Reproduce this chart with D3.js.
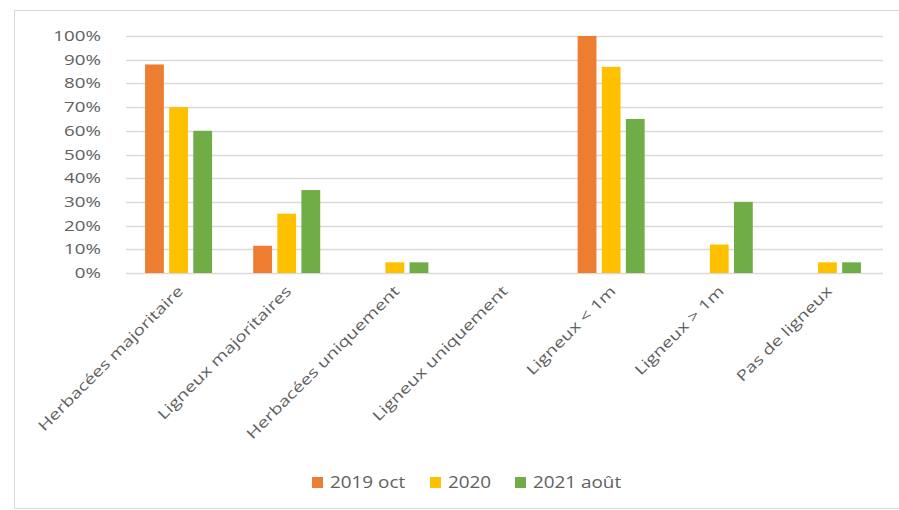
<!DOCTYPE html>
<html>
<head>
<meta charset="utf-8">
<script src="https://cdn.jsdelivr.net/npm/d3@7"></script>
<style>
body { margin: 0; background: #fff; }
text { font-family: "Open Sans", sans-serif; fill: #606060; }
</style>
</head>
<body>
<svg id="chart" width="899" height="510"></svg>
<script>
var categories = ["Herbacées majoritaire", "Ligneux majoritaires", "Herbacées uniquement",
    "Ligneux uniquement", "Ligneux < 1m", "Ligneux > 1m", "Pas de ligneux"];
var seriesNames = ["2019 oct", "2020", "2021 août"];
var values2019 = [0.88, 0.115, 0, 0, 1.0, 0, 0];
var values2020 = [0.70, 0.25, 0.045, 0, 0.87, 0.12, 0.045];
var values2021 = [0.60, 0.35, 0.045, 0, 0.65, 0.30, 0.045];
var colours = ["#ED7D31", "#FFC000", "#70AD47"];
var yTicks = [0, 0.1, 0.2, 0.3, 0.4, 0.5, 0.6, 0.7, 0.8, 0.9, 1.0];

var allSeries = [values2019, values2020, values2021];

var svg = d3.select("svg#chart");

// outer frame
svg.append("rect")
    .attr("x", 14.5).attr("y", 10.5)
    .attr("width", 900).attr("height", 498)
    .attr("fill", "none")
    .attr("stroke", "#d9d9d9");

var plotLeft = 126, plotRight = 883, plotTop = 36, plotBottom = 273;
var stretch = 1.25; // text in the picture is drawn wide

var x = d3.scaleBand().domain(categories).range([plotLeft, plotRight]);
var xs = d3.scaleBand().domain(seriesNames).range([0, 67]).paddingInner(0.22);
var y = d3.scaleLinear().domain([0, 1]).range([plotBottom, plotTop]);

// grid
svg.append("g")
    .selectAll("line")
    .data(yTicks)
    .enter().append("line")
    .attr("x1", plotLeft).attr("x2", plotRight)
    .attr("y1", function(d) { return Math.round(y(d)) + 0.5; })
    .attr("y2", function(d) { return Math.round(y(d)) + 0.5; })
    .attr("stroke", "#d9d9d9")
    .attr("stroke-width", 1.5);

// y labels
svg.append("g")
    .selectAll("text")
    .data(yTicks)
    .enter().append("text")
    .attr("transform", function(d) { return "translate(101," + (y(d) + 5) + ") scale(" + stretch + ",1)"; })
    .attr("text-anchor", "end")
    .style("font-size", "15px")
    .text(function(d) { return d3.format(".0%")(d); });

// bars
allSeries.forEach(function(vals, si) {
    svg.append("g")
        .selectAll("rect")
        .data(vals)
        .enter().append("rect")
        .attr("x", function(d, i) { return x(categories[i]) + x.bandwidth() / 2 - 35 + xs(seriesNames[si]); })
        .attr("y", function(d) { return y(d); })
        .attr("width", xs.bandwidth())
        .attr("height", function(d) { return y(0) - y(d); })
        .attr("fill", colours[si]);
});

// category labels
svg.append("g")
    .selectAll("text")
    .data(categories)
    .enter().append("text")
    .attr("transform", function(d) {
        return "translate(" + (x(d) + x.bandwidth() / 2 + 4) + "," + 292 + ") rotate(-45) scale(1.32,1)";
    })
    .attr("text-anchor", "end")
    .style("font-size", "14.5px")
    .text(function(d) { return d; });

// legend
var legendX = [312, 430, 515];
var legend = svg.append("g");
seriesNames.forEach(function(name, i) {
    legend.append("rect")
        .attr("x", legendX[i]).attr("y", 477)
        .attr("width", 11).attr("height", 11)
        .attr("fill", colours[i]);
    legend.append("text")
        .attr("transform", "translate(" + (legendX[i] + 18) + ",488) scale(1.18,1)")
        .style("font-size", "16px")
        .text(name);
});
</script>
</body>
</html>
